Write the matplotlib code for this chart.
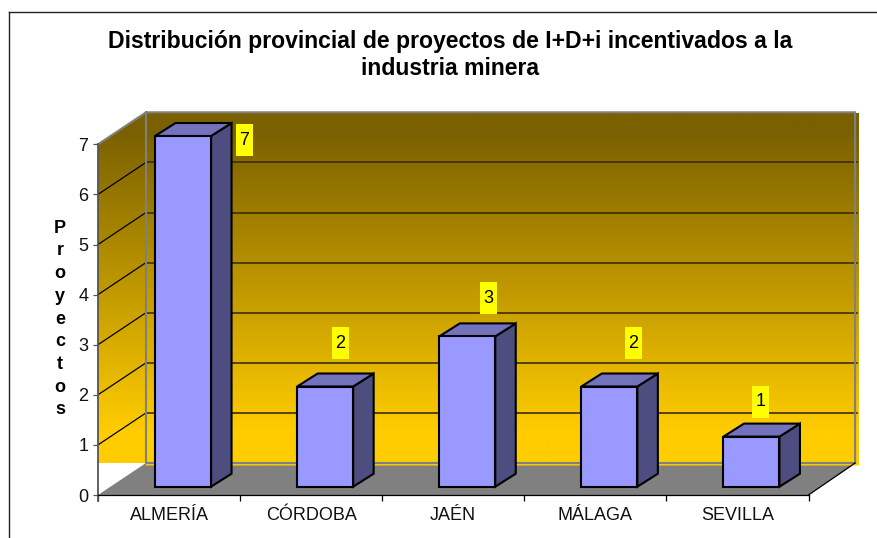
import matplotlib
matplotlib.use('Agg')
import numpy as np
import matplotlib.pyplot as plt
from matplotlib.colors import LinearSegmentedColormap
from matplotlib.lines import Line2D
from matplotlib.patches import Polygon, Rectangle

provincias = ['ALMERÍA', 'CÓRDOBA', 'JAÉN', 'MÁLAGA', 'SEVILLA']
proyectos = [7, 2, 3, 2, 1]
ticks_y = [0, 1, 2, 3, 4, 5, 6, 7]
titulo = 'Distribución provincial de proyectos de I+D+i incentivados a la\nindustria minera'
eje_y = 'P\nr\no\ny\ne\nc\nt\no\ns'

W, H = 878, 538
# front plane of the fake 3d box, in pixels
X0, X1, Y0, Y7 = 98, 808.5, 495, 144.3
UX = (X1 - X0) / len(provincias)
UY = (Y0 - Y7) / 7
DX = 48 / UX
DY = 32 / UY


def px(x, y):
    return (x - X0) / UX, (Y0 - y) / UY


plt.rcParams['font.family'] = ['Liberation Sans', 'DejaVu Sans']
fig = plt.figure(figsize=(W / 100, H / 100), dpi=100)
ax = fig.add_axes([X0 / W, 1 - Y0 / H, (X1 - X0) / W, (Y0 - Y7) / H])
ax.patch.set_visible(False)
n = len(provincias)

# floor
floor = Polygon([(0, 0), (DX, DY), (n + DX, DY), (n, 0)], closed=True, fc='#808080', ec='none', zorder=1, clip_on=False)
ax.add_patch(floor)

# walls with the gradient
grad = LinearSegmentedColormap.from_list('pared', [(0, '#7A6000'), (0.05, '#7A6000'), (0.9, '#FFCC00'), (1, '#FFCC00')])
clip = Polygon([px(98, Y7), px(146, 113), px(859, 113), px(859, 465.5), px(146, 465.5), px(146, 463), px(98, 463)],
               closed=True, transform=ax.transData)
x_a, y_a = px(98, 465.5)
x_b, y_b = px(859, 113)
img = ax.imshow(np.linspace(0, 1, 256).reshape(-1, 1), cmap=grad, aspect='auto', origin='upper',
                extent=[x_a, x_b, y_a, y_b], zorder=1.1)
# imshow falls back on the axes box, the walls stick out of it
img.set_clip_box(fig.bbox)
img.set_clip_path(clip)

for v in ticks_y[1:-1]:
    ax.plot([0, DX], [v, v + DY], color='black', lw=0.9, zorder=1.3, clip_on=False)
for v in ticks_y[1:]:
    if v < 7:
        ax.plot([DX, n + DX], [v + DY, v + DY], color='#3A2E00', lw=1.2, zorder=1.3, clip_on=False)

# wall borders
ax.plot([0, DX, n + DX - 0.01, n + DX - 0.01, DX, DX], [7, 7 + DY, 7 + DY, DY, DY, 7 + DY], color='#808080', lw=1.5,
        zorder=1.4, clip_on=False, solid_joinstyle='miter')
ax.plot([n, n + DX - 0.01], [0, DY], color='black', lw=0.9, zorder=1.4, clip_on=False)

# bars
centros = np.arange(n) + 0.5
ancho = 56 / UX
off_x = 14 / UX
off_y = 8.3 / UY
bd_x = 20.5 / UX
bd_y = 13 / UY
ax.bar(centros + off_x, proyectos, ancho, bottom=off_y, color='#9999FF', edgecolor='black', lw=1.5, zorder=3,
       clip_on=False)
for c, v in zip(centros, proyectos):
    l = c + off_x - ancho / 2
    r = c + off_x + ancho / 2
    b = off_y
    t = off_y + v
    ax.add_patch(Polygon([(r, b), (r + bd_x, b + bd_y), (r + bd_x, t + bd_y), (r, t)], closed=True, fc='#4D4D80',
                         ec='black', lw=1.5, zorder=2.9, clip_on=False))
    ax.add_patch(Polygon([(l, t), (l + bd_x, t + bd_y), (r + bd_x, t + bd_y), (r, t)], closed=True, fc='#7373BD',
                         ec='black', lw=1.5, zorder=2.9, clip_on=False))

# value labels
etiquetas_px = [(244.5, 140), (340.5, 343), (488.5, 298), (633.5, 343), (760.5, 402)]
for (lx, ly), v in zip(etiquetas_px, proyectos):
    ax.add_patch(Rectangle(px(lx - 8.5, ly + 16), 17 / UX, 32 / UY, fc='#FFFF00', ec='none', zorder=4, clip_on=False))
    xt, yt = px(lx, ly)
    ax.text(xt, yt, str(v), ha='center', va='center', fontsize=13, color='black', zorder=5)

# axes
ax.set_xlim(0, n)
ax.set_ylim(0, 7)
ax.set_yticks(ticks_y)
ax.set_xticks(range(n + 1))
ax.set_xticklabels([])
ax.set_xticks(centros, provincias, minor=True)
ax.tick_params(axis='x', which='major', length=4.5, width=0.9, color='black')
ax.tick_params(axis='x', which='minor', length=0, pad=9, labelsize=13, labelcolor='#111111')
ax.tick_params(axis='y', length=3.5, width=0.9, color='#555555', pad=3.5, labelsize=13, labelcolor='#111111')
for s in ['top', 'right']:
    ax.spines[s].set_visible(False)
ax.spines['left'].set_color('#555555')
ax.spines['left'].set_linewidth(1.3)
ax.spines['left'].set_zorder(2)
ax.spines['bottom'].set_color('black')
ax.spines['bottom'].set_linewidth(0.9)
ax.spines['left'].set_bounds(-0.12, 7)

fig.text(450.5 / W, 1 - 55 / H, titulo, ha='center', va='center', fontsize=16.6, fontweight='bold', linespacing=1.23)
fig.text(60 / W, 1 - 319 / H, eje_y, ha='center', va='center', fontsize=13, fontweight='bold', linespacing=1.44)

# chart frame
fig.add_artist(Line2D([8.5 / W, 8.5 / W], [0, 1 - 11.5 / H], color='#222222', lw=1))
fig.add_artist(Line2D([8.5 / W, 1], [1 - 11.5 / H, 1 - 11.5 / H], color='#222222', lw=1))

fig.savefig('out.png', dpi=100)
